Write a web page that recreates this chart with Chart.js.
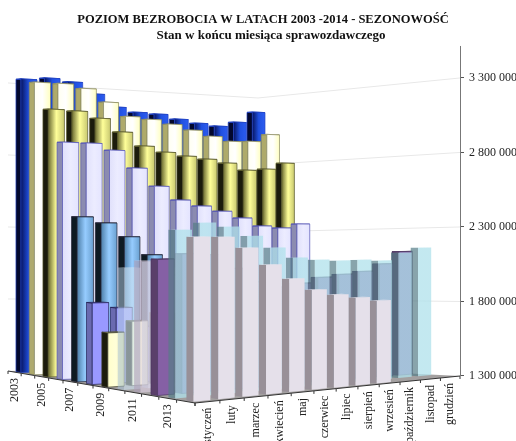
<!DOCTYPE html>
<html>
<head>
<meta charset="utf-8">
<style>html,body{margin:0;padding:0;background:#fff}canvas{display:block}</style>
<script src="https://cdn.jsdelivr.net/npm/chart.js"></script>
</head>
<body>
<canvas id="chart" width="516" height="441"></canvas>
<script>
const titleLine = 'POZIOM BEZROBOCIA W LATACH 2003 -2014 - SEZONOWOŚĆ';
const subtitleLine = 'Stan w końcu miesiąca sprawozdawczego';
const months = ['styczeń', 'luty', 'marzec', 'kwiecień', 'maj', 'czerwiec', 'lipiec', 'sierpień', 'wrzesień', 'październik', 'listopad', 'grudzień'];
const years = [2003, 2004, 2005, 2006, 2007, 2008, 2009, 2010, 2011, 2012, 2013, 2014];
const yTicks = [1300000, 1800000, 2300000, 2800000, 3300000];

const v2003 = [3324000, 3341000, 3324000, 3249000, 3165000, 3136000, 3131000, 3102000, 3080000, 3066000, 3102000, 3183000];
const v2004 = [3292000, 3293000, 3268000, 3182000, 3090000, 3077000, 3050000, 3015000, 2977000, 2947000, 2953000, 3009000];
const v2005 = [3101000, 3097000, 3055000, 2968000, 2877000, 2840000, 2818000, 2802000, 2779000, 2733000, 2745000, 2793000];
const v2006 = [2874000, 2874000, 2832000, 2716000, 2596000, 2504000, 2465000, 2431000, 2385000, 2330000, 2317000, 2347000];
const v2007 = [2380000, 2341000, 2250000, 2129000, 1990000, 1900000, 1860000, 1820000, 1790000, 1750000, 1730000, 1746000];
const v2008 = [1826000, 1790000, 1660000, 1560000, 1480000, 1420000, 1400000, 1390000, 1380000, 1380000, 1410000, 1473000];
const v2009 = [1645000, 1713000, 1759000, 1751000, 1717000, 1659000, 1658000, 1692000, 1718000, 1747000, 1786000, 1892000];
const v2010 = [2065000, 2100000, 2060000, 1950000, 1820000, 1790000, 1780000, 1780000, 1790000, 1808000, 1860000, 1954000];
const v2011 = [2115000, 2119000, 2100000, 1990000, 1900000, 1860000, 1850000, 1860000, 1860000, 1880000, 1920000, 1982000];
const v2012 = [2130000, 2160000, 2150000, 2060000, 1970000, 1930000, 1950000, 1984000, 1999000, 2014000, 2060000, 2141000];
const v2013 = [2313000, 2354000, 2328000, 2268000, 2191000, 2124000, 2106000, 2096000, 2097000, 2087000, 2136000, 2166000];
const v2014 = [2275000, 2271000, 2201000, 2093000, 2001000, 1925000, 1887000, 1861000, 1834000];
const seriesValues = [v2003, v2004, v2005, v2006, v2007, v2008, v2009, v2010, v2011, v2012, v2013, v2014];

// look of each year: side face, front face gradient, top face, outline
const looks = [
  {side: '#03082e', face: ['#081560', '#2050e0', '#2c5cf0'], top: '#1a3fc8', line: '#2040c0'},
  {side: '#aeaa6a', face: ['#fffff0', '#ffffff', '#ffffc0'], top: '#ffffd0', line: '#8a8a60'},
  {side: '#1b1b0c', face: ['#6a6a30', '#ffff99', '#c8c870'], top: '#cccc77', line: '#55552a'},
  {side: '#8b8bb0', face: ['#e0e0fb', '#ececff', '#e4e4ff'], top: '#d8d8ff', line: '#5555b5'},
  {side: '#0e1a22', face: ['#4d7ea8', '#96ccff', '#6aa0d0'], top: '#5a8fc0', line: '#222233'},
  {side: '#6a6ab0', face: ['#9999ff', '#9999ff', '#9999ff'], top: '#8888ee', line: '#222255'},
  {side: '#1b1b0c', face: ['#ffffcc', '#ffffd8', '#f0f0b0'], top: '#eeeeaa', line: '#333322'},
  {side: 'rgba(170,195,215,.55)', face: ['rgba(205,225,240,.62)', 'rgba(205,225,240,.62)', 'rgba(205,225,240,.62)'], top: 'rgba(220,235,245,.6)', line: 'rgba(0,0,0,0)'},
  {side: 'rgba(175,160,185,.6)', face: ['rgba(225,210,230,.6)', 'rgba(225,210,230,.6)', 'rgba(225,210,230,.6)'], top: 'rgba(235,225,240,.6)', line: 'rgba(0,0,0,0)'},
  {side: '#5a3f6a', face: ['#8560a5', '#8560a5', '#8560a5'], top: '#75508f', line: '#4a3560'},
  {side: 'rgba(85,125,135,.7)', face: ['rgba(175,225,235,.75)', 'rgba(175,225,235,.75)', 'rgba(175,225,235,.75)'], top: 'rgba(190,230,238,.75)', line: 'rgba(0,0,0,0)'},
  {side: '#989098', face: ['#e5e0ea', '#e5e0ea', '#e5e0ea'], top: '#ece8f0', line: 'rgba(0,0,0,0)'}
];

// floor of the 3d box on the page, k = pixels per 500 000 at that corner
const floorFront = {x: 195, y: 403, k: 85};
const floorRight = {x: 460, y: 376, k: 74.5};
const floorLeft = {x: 8, y: 371, k: 72};
const floorBack = {x: 258, y: 366, k: 67};
const pxPerValue = 74.5 / 500000;

function warp(t, a) {
  return t * (1 + a) / (1 + a * t);
}

function floorPoint(monthPos, yearPos) {
  const p = warp(monthPos / 12, 0.14);
  const q = warp(yearPos / 12, 0.2);
  const mix = key => floorFront[key] + p * (floorRight[key] - floorFront[key]) + q * (floorLeft[key] - floorFront[key]) +
    p * q * (floorFront[key] - floorRight[key] + floorBack[key] - floorLeft[key]);
  return {x: mix('x'), y: mix('y'), k: mix('k')};
}

// convert a floor point and a value into the y axis' own units
function projected(pt, value) {
  const floor = yTicks[0] - (pt.y - floorRight.y) / pxPerValue;
  return floor + (value - yTicks[0]) * pt.k / floorRight.k;
}

const FACE_A = 0.16, FACE_B = 0.84, DEPTH_A = 0.3, DEPTH_B = 0.68;

class Bar3dController extends Chart.BarController {
  updateElements(rects, start, count, mode) {
    super.updateElements(rects, start, count, mode);
    const xs = this.chart.scales.x;
    const s = this.index;
    for (let i = start; i < start + count; i++) {
      const q = 11 - s + DEPTH_A;
      const a = floorPoint(i + FACE_A, q), b = floorPoint(i + FACE_B, q);
      rects[i].width = xs.getPixelForValue(b.x) - xs.getPixelForValue(a.x);
    }
  }
  draw() {
    const ctx = this.chart.ctx;
    const xs = this.chart.scales.x, ys = this.chart.scales.y;
    const ds = this.getDataset();
    const s = this.index;
    const rects = this._cachedMeta.data;
    const px = (pt, v) => [xs.getPixelForValue(pt.x), ys.getPixelForValue(projected(pt, v))];
    const poly = (pts, fill) => {
      ctx.beginPath();
      pts.forEach((p, n) => n ? ctx.lineTo(p[0], p[1]) : ctx.moveTo(p[0], p[1]));
      ctx.closePath();
      ctx.fillStyle = fill;
      ctx.fill();
      ctx.stroke();
    };
    ctx.save();
    ctx.lineWidth = 0.7;
    ctx.strokeStyle = ds.borderColor;
    for (let i = rects.length - 1; i >= 0; i--) {
      const v = ds.data[i].value;
      const q0 = 11 - s + DEPTH_A, q1 = 11 - s + DEPTH_B;
      const fl = floorPoint(i + FACE_A, q0), fr = floorPoint(i + FACE_B, q0);
      const bl = floorPoint(i + FACE_A, q1), br = floorPoint(i + FACE_B, q1);
      const left = rects[i].x - rects[i].width / 2;
      const right = rects[i].x + rects[i].width / 2;
      const grad = ctx.createLinearGradient(left, 0, right, 0);
      ds.faceStops.forEach((c, n) => grad.addColorStop(n / 2, c));
      poly([px(bl, yTicks[0]), px(fl, yTicks[0]), px(fl, v), px(bl, v)], ds.sideColor);
      poly([px(fl, v), px(fr, v), px(br, v), px(bl, v)], ds.topColor);
      poly([[left, rects[i].base], px(fr, yTicks[0]), px(fr, v), [left, rects[i].y]], grad);
    }
    ctx.restore();
  }
}
Bar3dController.id = 'bar3d';
Bar3dController.defaults = Chart.BarController.defaults;
Chart.register(Bar3dController);

const walls = {
  id: 'walls',
  beforeDatasetsDraw(chart) {
    const ctx = chart.ctx, xs = chart.scales.x, ys = chart.scales.y;
    const wallPx = (pt, v) => [xs.getPixelForValue(pt.x), ys.getPixelForValue(projected(pt, v))];
    ctx.save();
    // floor
    ctx.beginPath();
    [floorLeft, floorFront, floorRight, floorBack].forEach((pt, n) => {
      const p = wallPx(pt, yTicks[0]);
      n ? ctx.lineTo(p[0], p[1]) : ctx.moveTo(p[0], p[1]);
    });
    ctx.closePath();
    ctx.fillStyle = '#a3a0a0';
    ctx.fill();
    // gridlines on the two back walls
    ctx.strokeStyle = '#e8e8e8';
    ctx.lineWidth = 1;
    yTicks.slice(1).forEach(v => {
      ctx.beginPath();
      [floorLeft, floorBack, floorRight].forEach((pt, n) => {
        const p = wallPx(pt, v);
        n ? ctx.lineTo(p[0], p[1]) : ctx.moveTo(p[0], p[1]);
      });
      ctx.stroke();
    });
    // value axis line
    ctx.strokeStyle = '#777';
    ctx.beginPath();
    ctx.moveTo(xs.getPixelForValue(floorRight.x) + 0.5, chart.chartArea.top);
    ctx.lineTo(xs.getPixelForValue(floorRight.x) + 0.5, ys.getPixelForValue(yTicks[0]));
    ctx.stroke();
    ctx.restore();
  },
  afterDraw(chart) {
    const ctx = chart.ctx, xs = chart.scales.x, ys = chart.scales.y;
    const pos = pt => [xs.getPixelForValue(pt.x), ys.getPixelForValue(projected(pt, yTicks[0]))];
    const rotated = (text, pt) => {
      const p = pos(pt);
      ctx.save();
      ctx.translate(p[0], p[1] + 6);
      ctx.rotate(-Math.PI / 2);
      ctx.textAlign = 'right';
      ctx.textBaseline = 'middle';
      ctx.fillText(text, 0, 0);
      ctx.restore();
    };
    ctx.save();
    // second title line sits a little right of the first one
    ctx.fillStyle = '#111';
    ctx.font = "bold 13px 'Liberation Serif'";
    ctx.textAlign = 'center';
    ctx.textBaseline = 'middle';
    ctx.fillText(subtitleLine, 271, 36);
    ctx.strokeStyle = '#333';
    ctx.lineWidth = 1;
    ctx.fillStyle = '#222';
    ctx.font = "12px 'Liberation Serif'";
    const edge = (points) => {
      ctx.beginPath();
      points.forEach((pt, n) => {
        const p = pos(pt);
        n ? ctx.lineTo(p[0], p[1]) : ctx.moveTo(p[0], p[1]);
      });
      ctx.stroke();
      points.forEach(pt => {
        const p = pos(pt);
        ctx.beginPath();
        ctx.moveTo(p[0], p[1]);
        ctx.lineTo(p[0], p[1] + 3);
        ctx.stroke();
      });
    };
    edge(months.map((m, i) => floorPoint(i, 0)).concat([floorPoint(12, 0)]));
    edge(years.map((y, j) => floorPoint(0, j)).concat([floorPoint(0, 12)]));
    months.forEach((m, i) => rotated(m, floorPoint(i + 0.5, 0)));
    years.forEach((y, s) => {
      if (y % 2 === 1) rotated(String(y), floorPoint(0, 11 - s + 0.5));
    });
    ctx.restore();
  }
};

const datasets = seriesValues.map((values, s) => ({
  type: 'bar3d',
  label: String(years[s]),
  order: 11 - s,
  grouped: false,
  backgroundColor: looks[s].face[1],
  borderColor: looks[s].line,
  faceStops: looks[s].face,
  sideColor: looks[s].side,
  topColor: looks[s].top,
  data: values.map((value, m) => {
    const q = 11 - s + DEPTH_A;
    const a = floorPoint(m + FACE_A, q), b = floorPoint(m + FACE_B, q);
    return {x: (a.x + b.x) / 2, y: [projected(a, yTicks[0]), projected(a, value)], value: value};
  })
}));

new Chart(document.getElementById('chart'), {
  type: 'bar3d',
  data: {datasets: datasets},
  plugins: [walls],
  options: {
    responsive: false,
    animation: false,
    grouped: false,
    layout: {autoPadding: false, padding: {left: 10}},
    plugins: {
      legend: {display: false},
      tooltip: {enabled: false},
      title: {
        display: true,
        text: titleLine,
        color: '#111',
        font: {family: "'Liberation Serif'", size: 12.5, weight: 'bold', lineHeight: 1.15},
        padding: {top: 13, bottom: 18.6}
      }
    },
    scales: {
      x: {type: 'linear', display: false, offset: false, min: 10, max: floorRight.x},
      y: {
        type: 'linear',
        position: 'right',
        min: yTicks[0] - (441 - floorRight.y) / pxPerValue,
        max: yTicks[4] + (78 - 46) / pxPerValue,
        afterBuildTicks: scale => { scale.ticks = yTicks.map(v => ({value: v})); },
        afterFit: scale => { scale.width = 56; scale.paddingTop = 0; scale.paddingBottom = 0; },
        border: {display: false},
        grid: {drawOnChartArea: false, tickLength: 4, color: '#555'},
        ticks: {
          autoSkip: false,
          padding: 5,
          color: '#222',
          font: {family: "'Liberation Serif'", size: 12},
          callback: v => String(v).replace(/\B(?=(\d{3})+$)/g, ' ')
        }
      }
    }
  }
});
</script>
</body>
</html>
